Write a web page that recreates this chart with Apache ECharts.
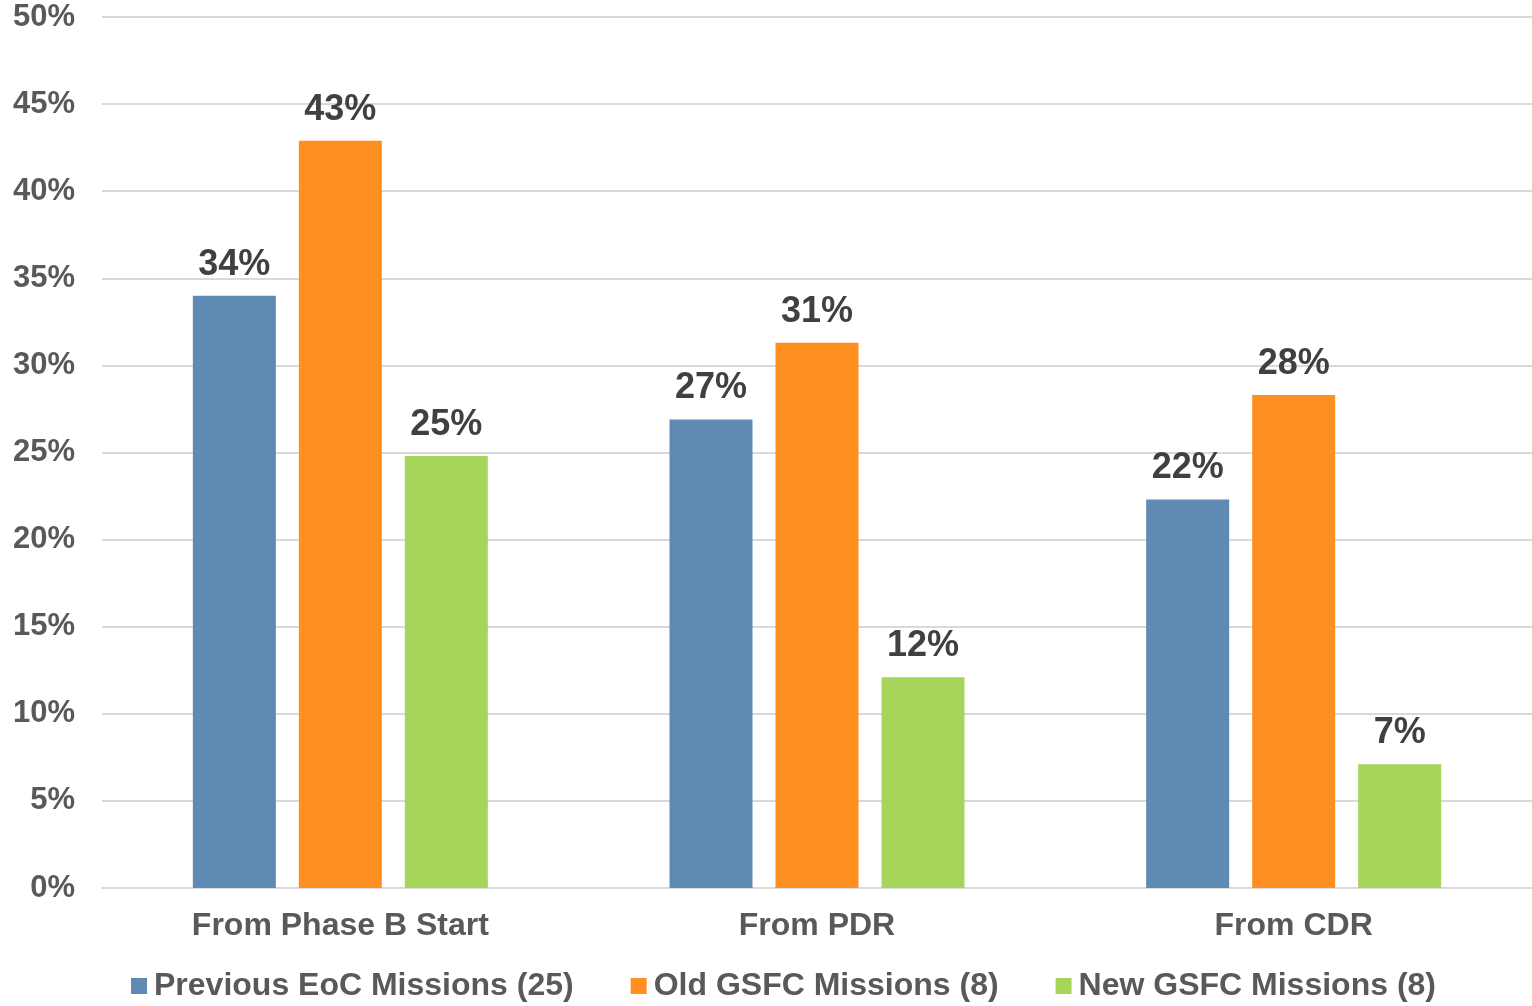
<!DOCTYPE html>
<html>
<head>
<meta charset="utf-8">
<script src="https://cdn.jsdelivr.net/npm/echarts@6/dist/echarts.min.js"></script>
<style>
  html, body { margin: 0; padding: 0; background: #ffffff; }
  #chart { width: 1532px; height: 1006px; }
</style>
</head>
<body>
<div id="chart"></div>
<script>
// Categories and series (percent growth by milestone)
const categories = ['From Phase B Start', 'From PDR', 'From CDR'];
const seriesNames = ['Previous EoC Missions (25)', 'Old GSFC Missions (8)', 'New GSFC Missions (8)'];
const previousEoc = [34.0, 26.9, 22.3];
const oldGsfc = [42.9, 31.3, 28.3];
const newGsfc = [24.8, 12.1, 7.1];
const seriesColors = ['#5F8AB4', '#FE8F20', '#A5D65B'];

const FONT = '"Liberation Sans", Arial, sans-serif';

const chart = echarts.init(document.getElementById('chart'), null, { renderer: 'canvas' });

function barSeries(name, data, color) {
  return {
    name: name,
    type: 'bar',
    data: data,
    barWidth: 83,
    barGap: '27.7%',
    itemStyle: { color: color },
    label: {
      show: true,
      position: 'top',
      distance: 13,
      formatter: p => Math.round(p.value) + '%',
      fontFamily: FONT,
      fontWeight: 'bold',
      fontSize: 36,
      color: '#404040'
    }
  };
}

chart.setOption({
  animation: false,
  backgroundColor: '#ffffff',
  grid: { left: 102, right: 0, top: 17, bottom: 118, containLabel: false },
  legend: {
    bottom: -1,
    left: 126,
    icon: 'rect',
    itemWidth: 16,
    itemHeight: 16,
    itemGap: 57,
    data: seriesNames,
    textStyle: {
      fontFamily: FONT,
      fontWeight: 'bold',
      fontSize: 32,
      color: '#595959',
      padding: [0, 0, 0, 2]
    }
  },
  xAxis: {
    type: 'category',
    data: categories,
    axisTick: { show: false },
    axisLine: { show: true, lineStyle: { color: '#D9D9D9', width: 2 } },
    axisLabel: {
      margin: 22,
      fontFamily: FONT,
      fontWeight: 'bold',
      fontSize: 32,
      color: '#595959'
    }
  },
  yAxis: {
    type: 'value',
    min: 0,
    max: 50,
    interval: 5,
    axisLine: { show: false },
    axisTick: { show: false },
    splitLine: { lineStyle: { color: '#D9D9D9', width: 2 } },
    axisLabel: {
      margin: 27,
      formatter: '{value}%',
      fontFamily: FONT,
      fontWeight: 'bold',
      fontSize: 31,
      color: '#595959'
    }
  },
  series: [
    barSeries(seriesNames[0], previousEoc, seriesColors[0]),
    barSeries(seriesNames[1], oldGsfc, seriesColors[1]),
    barSeries(seriesNames[2], newGsfc, seriesColors[2])
  ]
});
</script>
</body>
</html>
